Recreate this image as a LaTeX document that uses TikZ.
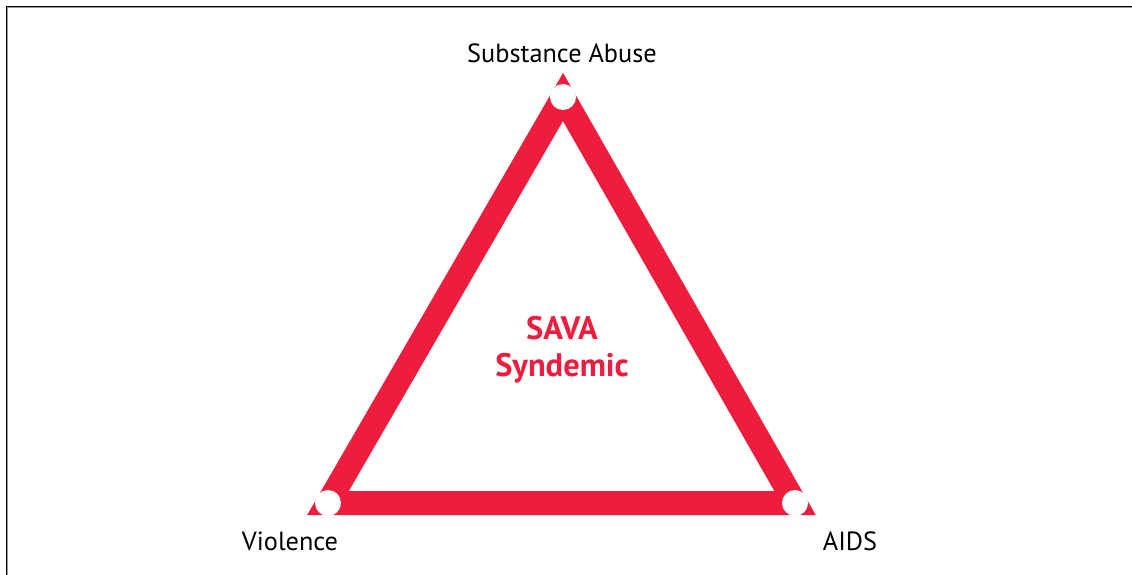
\documentclass[tikz,border=0pt]{standalone}
\usepackage{fontspec}
\setmainfont{PT Sans}
\definecolor{savared}{RGB}{238,29,61}
\definecolor{framegray}{RGB}{150,150,150}
\tikzset{
  vtx/.style={circle, fill=white, inner sep=0pt, minimum size=26pt},
  lbl/.style={font=\fontsize{26.3}{30}\selectfont, text=black, inner sep=0pt, anchor=base},
  ctr/.style={font=\bfseries\fontsize{32.5}{38}\selectfont, text=savared, inner sep=0pt, anchor=base},
  edge/.style={draw=savared, line width=24pt, miter limit=10, line join=miter}
}
\begin{document}
\begin{tikzpicture}[x=1pt,y=-1pt]
\useasboundingbox (0,0) rectangle (1132,575);
% frame (cropped)
\draw[framegray, line width=1pt] (7.8,575) -- (7.8,7.8) -- (1132,7.8);
\draw[black, line width=1.3pt] (6.6,575) -- (6.6,6.6) -- (1132,6.6);
% vertices
\coordinate (T) at (563,97);
\coordinate (L) at (328,503);
\coordinate (R) at (795,503);
\draw[edge] (T) -- (L) -- (R) -- cycle;
\node[vtx] (tc) at (T) {};
\node[vtx] (lc) at (L) {};
\node[vtx] (rc) at (R) {};
% labels
\node[lbl] (sa) at (562,63) {Substance Abuse};
\node[lbl] (vi) at (290,550) {Violence};
\node[lbl] (ai) at (850,550) {AIDS};
\node[ctr] (sava) at (562,339) {SAVA};
\node[ctr] (synd) at (562,376) {Syndemic};
\end{tikzpicture}
\end{document}
